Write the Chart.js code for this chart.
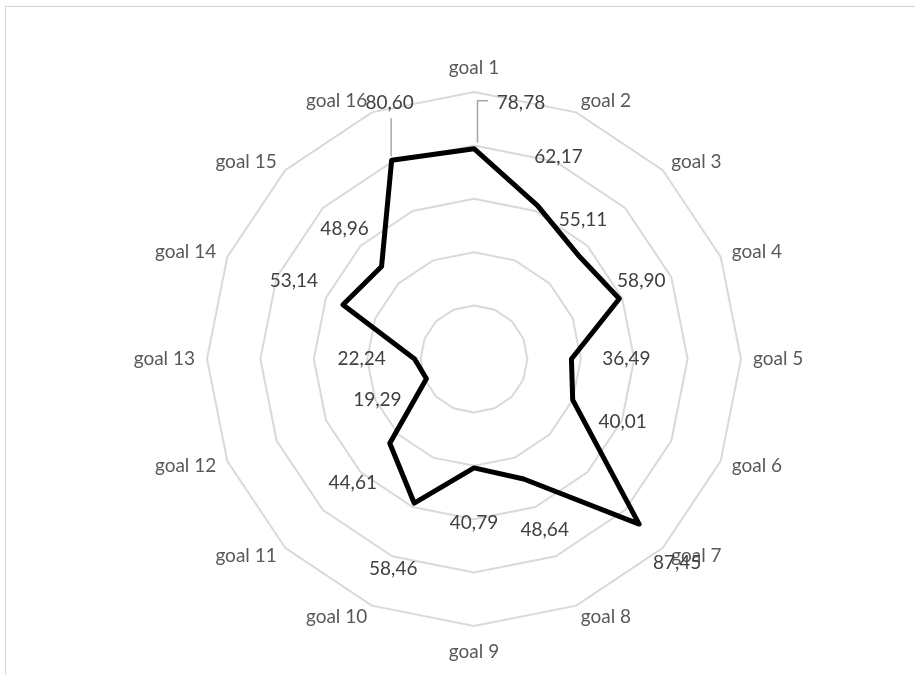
<!DOCTYPE html>
<html>
<head>
<meta charset="utf-8">
<script src="https://cdn.jsdelivr.net/npm/chart.js@4/dist/chart.umd.min.js"></script>
<style>
  html, body { margin: 0; padding: 0; background: #fff; overflow: hidden; }
  #wrap { position: relative; width: 915px; height: 675px; overflow: hidden; }
  #frame { position: absolute; left: 5px; top: 6px; width: 940px; height: 700px;
           border: 1px solid #d4d4d4; box-sizing: border-box; }
  canvas { position: absolute; left: 0; top: 0; }
</style>
</head>
<body>
<div id="wrap">
  <div id="frame"></div>
  <canvas id="radar" width="915" height="675"></canvas>
</div>
<script>
// Goals on the radar axes, clockwise from the top
const categories = [
  'goal 1', 'goal 2', 'goal 3', 'goal 4', 'goal 5', 'goal 6', 'goal 7', 'goal 8',
  'goal 9', 'goal 10', 'goal 11', 'goal 12', 'goal 13', 'goal 14', 'goal 15', 'goal 16'
];

// Score per goal
const scores = [
  78.78, 62.17, 55.11, 58.90, 36.49, 40.01, 87.45, 48.64,
  40.79, 58.46, 44.61, 19.29, 22.24, 53.14, 48.96, 80.60
];

// Radial scale range (rings every 20)
const scaleMin = 0;
const scaleMax = 100;
const scaleStep = 20;

// Pixel nudges of each value label away from its vertex
const valueLabelOffsets = [
  [47, -46], [21, -49], [5, -35], [22, -18], [55, 0], [50, 22], [38, 39], [21, 51],
  [0, 55], [-21, 66], [-37, 40], [-49, 21], [-53, 0], [-49, -24], [-37, -38], [-2, -57]
];

// Leader lines joining moved labels to their vertex (offsets from the vertex)
const leaderLines = {
  0: [[3.5, -6], [3.5, -48], [14, -48]],
  15: [[-0.5, -4], [-0.5, -42]]
};

const FONT = '19px Lato, "Open Sans", sans-serif';

function formatValue(v) {
  return v.toFixed(2).replace('.', ',');
}

const radarText = {
  id: 'radarText',
  afterDatasetsDraw(chart) {
    const scale = chart.scales.r;
    const ctx = chart.ctx;
    ctx.save();
    ctx.font = FONT;
    ctx.textBaseline = 'middle';

    // Axis names around the outer ring
    ctx.fillStyle = '#595959';
    categories.forEach((name, i) => {
      const p = scale.getPointPosition(i, scale.drawingArea + 12);
      const dx = p.x - scale.xCenter;
      let align = 'center';
      let y = p.y;
      if (Math.abs(dx) < 1) {
        y += (p.y < scale.yCenter) ? -12 : 14;
      } else {
        align = dx > 0 ? 'left' : 'right';
      }
      ctx.textAlign = align;
      ctx.fillText(name, p.x, y);
    });

    // Leader lines
    ctx.strokeStyle = '#a6a6a6';
    ctx.lineWidth = 1.5;
    Object.keys(leaderLines).forEach(k => {
      const i = Number(k);
      const v = scale.getPointPositionForValue(i, scores[i]);
      ctx.beginPath();
      leaderLines[k].forEach(([ox, oy], j) => {
        if (j === 0) ctx.moveTo(v.x + ox, v.y + oy);
        else ctx.lineTo(v.x + ox, v.y + oy);
      });
      ctx.stroke();
    });

    // Value labels
    ctx.fillStyle = '#404040';
    ctx.textAlign = 'center';
    scores.forEach((val, i) => {
      const v = scale.getPointPositionForValue(i, val);
      const [ox, oy] = valueLabelOffsets[i];
      ctx.fillText(formatValue(val), v.x + ox, v.y + oy);
    });
    ctx.restore();
  }
};

new Chart(document.getElementById('radar'), {
  type: 'radar',
  data: {
    labels: categories,
    datasets: [{
      label: 'score',
      data: scores,
      borderColor: '#000000',
      borderWidth: 5,
      borderJoinStyle: 'round',
      borderCapStyle: 'round',
      fill: false,
      tension: 0,
      pointRadius: 0,
      pointHoverRadius: 0
    }]
  },
  options: {
    responsive: false,
    animation: false,
    layout: { padding: { left: 200, right: 167, top: 92, bottom: 49 } },
    plugins: {
      legend: { display: false },
      tooltip: { enabled: false }
    },
    scales: {
      r: {
        min: scaleMin,
        max: scaleMax,
        ticks: { stepSize: scaleStep, display: false },
        grid: { circular: false, color: '#d9d9d9', lineWidth: 2 },
        angleLines: { display: false },
        pointLabels: { display: false }
      }
    }
  },
  plugins: [radarText]
});
</script>
</body>
</html>
